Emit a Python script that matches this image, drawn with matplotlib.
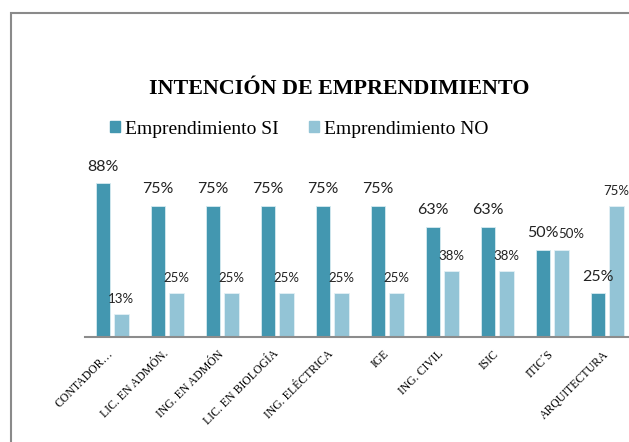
import matplotlib as mpl

mpl.use("Agg")
import matplotlib.pyplot as plt
from matplotlib.patches import Patch, Rectangle
from matplotlib.transforms import ScaledTranslation
import numpy as np

# careers and the share of students with / without entrepreneurial intent
carreras = [
    "CONTADOR…",
    "LIC. EN ADMÓN.",
    "ING. EN ADMÓN",
    "LIC. EN BIOLOGÍA",
    "ING. ELÉCTRICA",
    "IGE",
    "ING. CIVIL",
    "ISIC",
    "ITIC´S",
    "ARQUITECTURA",
]
si_vals = [0.88, 0.75, 0.75, 0.75, 0.75, 0.75, 0.63, 0.63, 0.50, 0.25]
no_vals = [0.13, 0.25, 0.25, 0.25, 0.25, 0.25, 0.38, 0.38, 0.50, 0.75]
series_names = ["Emprendimiento SI", "Emprendimiento NO"]

c_si = "#4397b0"
c_no = "#93c4d6"
serif = "Liberation Serif"
sans = "Lato"

W, H = 629, 442
fig = plt.figure(figsize=(W / 100, H / 100), dpi=100)

# outer chart frame, runs off the right and bottom edges
fig.add_artist(Rectangle((10.5 / W, -0.2), 1.3, 1.2 - 12.5 / H,
                         transform=fig.transFigure, fill=False,
                         ec="#8a8a8a", lw=1.5))

# plot area in pixel terms: group pitch 55 px, baseline at y=337
ax = fig.add_axes([84.6 / W, 1 - 337 / H, 550 / W, 174.7 / H])
x = np.arange(len(carreras))
bw = 0.264
off = 0.167
b1 = ax.bar(x - off, si_vals, bw, color=c_si, ec="#d6ebf1", lw=0.6)
b2 = ax.bar(x + off, no_vals, bw, color=c_no, ec="#e3f0f5", lw=0.6)

ax.set_xlim(-0.5, len(carreras) - 0.5)
ax.set_ylim(0, 1)

ax.bar_label(b1, labels=[f"{v:.0%}" for v in si_vals], padding=7,
             fontsize=11.5, family=sans, color="#222222")
lab2 = ax.bar_label(b2, labels=[f"{v:.0%}" for v in no_vals], padding=6.5,
                    fontsize=9.5, family=sans, color="#222222")
# nudge a NO label sideways when it sits level with its SI neighbour
for i, (s, n) in enumerate(zip(si_vals, no_vals)):
    if s == n:
        lab2[i].xyann = (7.5, 7)

for s in ["top", "right", "left"]:
    ax.spines[s].set_visible(False)
ax.spines["bottom"].set_color("#8c8c8c")
ax.spines["bottom"].set_linewidth(1.5)
ax.set_yticks([])
ax.set_xticks(x)
ax.set_xticklabels(carreras, rotation=45, ha="right", rotation_mode="default",
                   family=serif, fontsize=8.5)
ax.tick_params(axis="x", length=0, pad=8)
shift = ScaledTranslation(4 / 100, 0, fig.dpi_scale_trans)
for t in ax.get_xticklabels():
    t.set_transform(t.get_transform() + shift)

fig.text(339 / W, 1 - 89 / H, "INTENCIÓN DE EMPRENDIMIENTO", ha="center",
         va="center", family=serif, weight="bold", fontsize=15.8)

handles = [Patch(color=c_si), Patch(color=c_no)]
fig.legend(handles, series_names, loc="center left",
           bbox_to_anchor=(110 / W, 1 - 129 / H), ncol=2, frameon=False,
           prop={"family": serif, "size": 14}, handlelength=0.5,
           handleheight=0.5, handletextpad=0.25, columnspacing=1.6,
           borderpad=0, borderaxespad=0)

fig.savefig("out.png", dpi=100)
